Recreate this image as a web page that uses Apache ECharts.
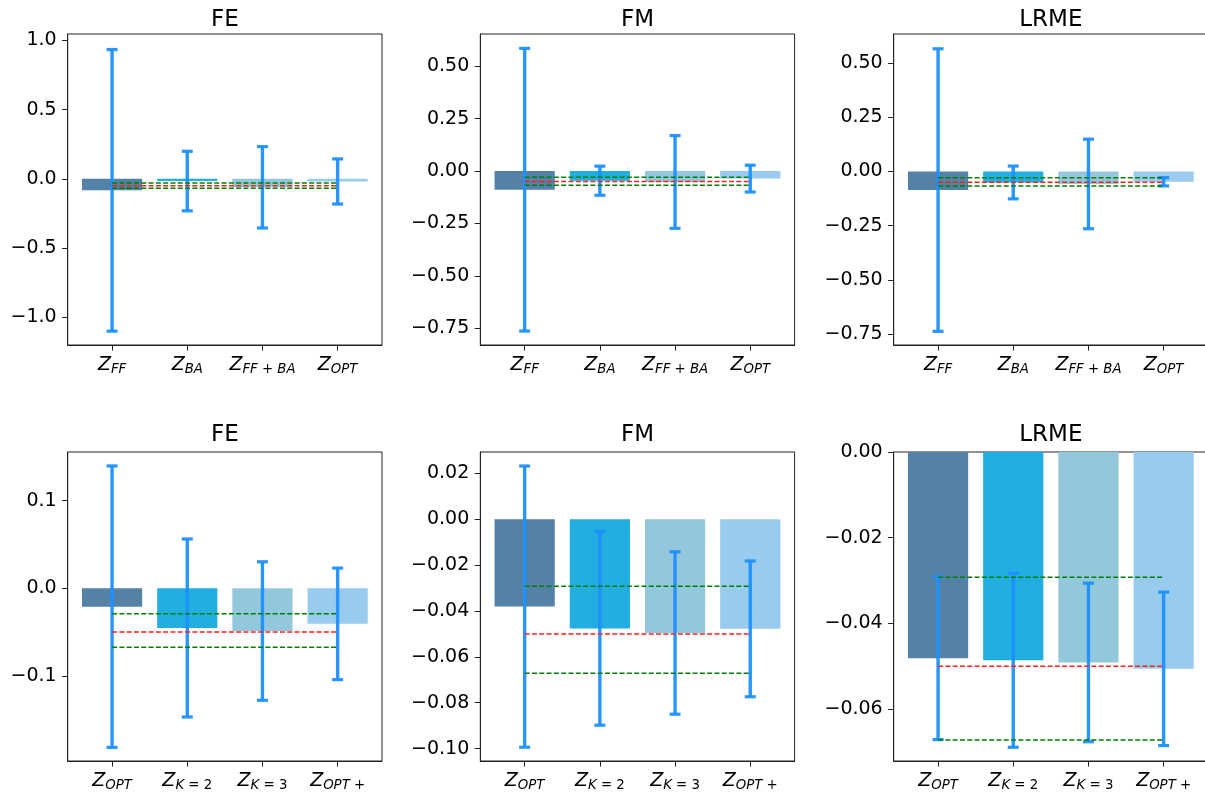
<!DOCTYPE html>
<html>
<head>
<meta charset="utf-8">
<script src="https://cdn.jsdelivr.net/npm/echarts@6/dist/echarts.min.js"></script>
<style>html,body{margin:0;padding:0;background:#fff}#c{width:1205px;height:797px}</style>
</head>
<body>
<div id="c"></div>
<script>
// ---- data ----
const topCats = ['FF', 'BA', 'FF+BA', 'OPT'];
const bottomCats = ['OPT', 'K=2', 'K=3', 'OPT+'];

const feTopMean = [-0.083, -0.016, -0.061, -0.019];
const feTopErr = [1.017, 0.215, 0.294, 0.163];
const fmTopMean = [-0.089, -0.046, -0.052, -0.036];
const fmTopErr = [0.675, 0.0695, 0.2215, 0.064];
const lrmeTopMean = [-0.086, -0.051, -0.058, -0.048];
const lrmeTopErr = [0.651, 0.0755, 0.2065, 0.019];

const feBotMean = [-0.021, -0.0453, -0.0488, -0.0406];
const feBotErr = [0.1605, 0.1015, 0.079, 0.0636];
const fmBotMean = [-0.0381, -0.0476, -0.0496, -0.0478];
const fmBotErr = [0.0613, 0.0422, 0.0354, 0.0296];
const lrmeBotMean = [-0.0481, -0.0486, -0.0491, -0.0506];
const lrmeBotErr = [0.019, 0.0203, 0.0185, 0.0179];

const greenRefs = [-0.0292, -0.0672];
const redRef = -0.050;

const feTopTicks = [-1.0, -0.5, 0.0, 0.5, 1.0];
const fmTopTicks = [-0.75, -0.5, -0.25, 0.0, 0.25, 0.5];
const lrmeTopTicks = [-0.75, -0.5, -0.25, 0.0, 0.25, 0.5];
const feBotTicks = [-0.1, 0.0, 0.1];
const fmBotTicks = [-0.10, -0.08, -0.06, -0.04, -0.02, 0.00, 0.02];
const lrmeBotTicks = [-0.06, -0.04, -0.02, 0.00];

const barColors = ['#5481a6', '#22aee0', '#93c7dc', '#98cbed'];
const errColor = '#1e90ff';

// ---- layout ----
const FONT = 'DejaVu Sans';
const colLeft = [67.7, 480.3, 893.7];
const colWidth = 314.3;
const rowTop = [34, 452];
const rowHeight = [311, 309];

const panels = [
  {title: 'FE', cats: topCats, mean: feTopMean, err: feTopErr, ticks: feTopTicks, dec: 1, yMin: -1.2, yMax: 1.046, col: 0, row: 0},
  {title: 'FM', cats: topCats, mean: fmTopMean, err: fmTopErr, ticks: fmTopTicks, dec: 2, yMin: -0.8305, yMax: 0.6545, col: 1, row: 0},
  {title: 'LRME', cats: topCats, mean: lrmeTopMean, err: lrmeTopErr, ticks: lrmeTopTicks, dec: 2, yMin: -0.80, yMax: 0.633, col: 2, row: 0},
  {title: 'FE', cats: bottomCats, mean: feBotMean, err: feBotErr, ticks: feBotTicks, dec: 1, yMin: -0.197, yMax: 0.1554, col: 0, row: 1},
  {title: 'FM', cats: bottomCats, mean: fmBotMean, err: fmBotErr, ticks: fmBotTicks, dec: 2, yMin: -0.1054, yMax: 0.0293, col: 1, row: 1},
  {title: 'LRME', cats: bottomCats, mean: lrmeBotMean, err: lrmeBotErr, ticks: lrmeBotTicks, dec: 2, yMin: -0.0721, yMax: 0, col: 2, row: 1}
];

function mathLabel(name) {
  // Z with subscript: letters italic, operators/digits upright
  let s = '{z|Z}';
  const parts = name.match(/[A-Za-z]+|[^A-Za-z]+/g) || [];
  parts.forEach((p, idx) => {
    if (/^[A-Za-z]+$/.test(p)) s += '{s|' + p + '}';
    else {
      let t = p.replace(/([+=])/g, ' $1 ').replace(/\s+/g, ' ');
      if (idx === parts.length - 1) t = t.replace(/\s+$/, '');
      s += '{o|' + t + '}';
    }
  });
  return s;
}

const richStyles = {
  z: {fontFamily: FONT, fontStyle: 'italic', fontSize: 19, lineHeight: 19, verticalAlign: 'top', color: '#000'},
  s: {fontFamily: FONT, fontStyle: 'italic', fontSize: 13.3, lineHeight: 13, padding: [7, 0, 0, 0], verticalAlign: 'top', color: '#000'},
  o: {fontFamily: FONT, fontSize: 13.3, lineHeight: 13, padding: [7, 0, 0, 0], verticalAlign: 'top', color: '#000'}
};

const grids = [], xAxes = [], yAxes = [], series = [], graphics = [];

panels.forEach((p, i) => {
  const left = colLeft[p.col], top = rowTop[p.row], height = rowHeight[p.row];
  grids.push({left: left, top: top, width: colWidth, height: height, containLabel: false, outerBoundsMode: 'none',
    show: true, borderColor: '#222', borderWidth: 1, backgroundColor: 'transparent'});
  const xIdx = [0, 1, 2, 3];
  xAxes.push({
    type: 'value', gridIndex: i, min: -0.59, max: 3.59,
    splitLine: {show: false},
    axisLine: {show: true, onZero: false, lineStyle: {color: '#222', width: 1}},
    axisTick: {show: true, length: 5.6, lineStyle: {color: '#222', width: 1}, customValues: xIdx},
    axisLabel: {show: true, margin: 11, customValues: xIdx, rich: richStyles,
      formatter: v => mathLabel(p.cats[Math.round(v)])}
  });
  yAxes.push({
    type: 'value', gridIndex: i, min: p.yMin, max: p.yMax,
    splitLine: {show: false},
    axisLine: {show: true, onZero: false, lineStyle: {color: '#222', width: 1}},
    axisTick: {show: true, length: 5.6, lineStyle: {color: '#222', width: 1}, customValues: p.ticks},
    axisLabel: {show: true, margin: 11, customValues: p.ticks, fontFamily: FONT, fontSize: 19, color: '#000',
      formatter: v => v.toFixed(p.dec).replace('-', '\u2212')}
  });
  series.push({
    type: 'bar', xAxisIndex: i, yAxisIndex: i, barWidth: 60.2, z: 2, silent: true,
    data: p.mean.map((m, k) => ({value: [k, m], itemStyle: {color: barColors[k]}}))
  });
  series.push({
    type: 'custom', xAxisIndex: i, yAxisIndex: i, z: 3, silent: true,
    data: p.mean.map((m, k) => [k, m, p.err[k]]),
    encode: {x: 0, y: 1},
    renderItem: function (params, api) {
      const x = api.value(0), m = api.value(1), e = api.value(2);
      const t = api.coord([x, m + e]), b = api.coord([x, m - e]);
      const cw = 5.5;
      const st = {stroke: errColor, lineWidth: 3.4, opacity: 0.95};
      const cs = {stroke: errColor, lineWidth: 3.2, opacity: 0.95};
      return {type: 'group', children: [
        {type: 'line', shape: {x1: t[0], y1: t[1], x2: b[0], y2: b[1]}, style: st},
        {type: 'line', shape: {x1: t[0] - cw, y1: t[1], x2: t[0] + cw, y2: t[1]}, style: cs},
        {type: 'line', shape: {x1: b[0] - cw, y1: b[1], x2: b[0] + cw, y2: b[1]}, style: cs}
      ]};
    }
  });
  const refs = [{v: greenRefs[0], c: '#008000'}, {v: redRef, c: '#ff2020'}, {v: greenRefs[1], c: '#008000'}];
  refs.forEach(r => {
    series.push({
      type: 'line', xAxisIndex: i, yAxisIndex: i, z: 4, silent: true, symbol: 'none', animation: false,
      lineStyle: {color: r.c, width: 1.5, type: [5, 2.3]},
      data: [[0, r.v], [3, r.v]]
    });
  });
  graphics.push({
    type: 'text', x: left + colWidth / 2, y: p.row === 0 ? 20.5 : 435.5,
    style: {text: p.title, fontFamily: FONT, fontSize: 23, fill: '#000', textAlign: 'center', textVerticalAlign: 'middle'}
  });
});

const chart = echarts.init(document.getElementById('c'), null, {renderer: 'canvas'});
chart.setOption({
  animation: false,
  backgroundColor: '#fff',
  grid: grids,
  xAxis: xAxes,
  yAxis: yAxes,
  series: series,
  graphic: graphics
});
</script>
</body>
</html>
